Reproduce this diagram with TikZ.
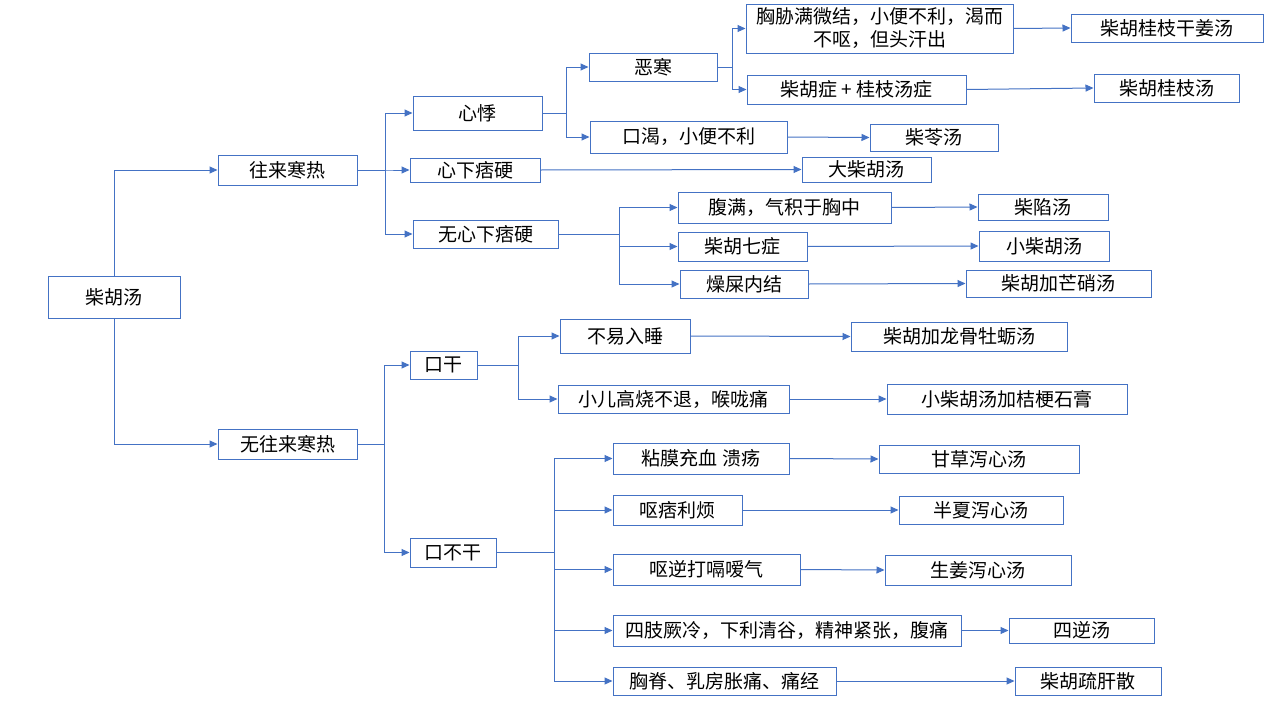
\documentclass[tikz,border=0pt]{standalone}
\usepackage{fontspec}
\setmainfont{Noto Sans CJK SC}
\usetikzlibrary{arrows.meta}
\definecolor{bblue}{HTML}{4472C4}
\newcommand\mybox[6]{\node[box,minimum width=#4pt,minimum height=#5pt] (#1) at (#2,#3) {#6};}
\begin{document}
\begin{tikzpicture}[x=1pt,y=-1pt,
  box/.style={draw=bblue, line width=1pt, inner sep=0pt, fill=white, text=black,
    font=\fontsize{19}{23}\selectfont, align=center},
  arr/.style={draw=bblue, line width=1pt, -{Triangle[length=8pt,width=7pt]}}]
\useasboundingbox[fill=white] (0,0) rectangle (1280,720);
% level 0/1
\mybox{root}{114}{297}{132}{42}{柴胡汤}
\mybox{wl}{287.5}{170}{139}{30}{往来寒热}
\mybox{nwl}{287.5}{444}{139}{30}{无往来寒热}
% upper branch
\mybox{xj}{477.5}{113}{129}{34}{心悸}
\mybox{xxpy}{475}{170}{130}{24}{心下痞硬}
\mybox{wxxpy}{485.5}{234}{145}{28}{无心下痞硬}
\mybox{eh}{653}{67}{128}{28}{恶寒}
\mybox{kk}{688.5}{137}{197}{32}{口渴，小便不利}
\mybox{xx}{879.5}{28.5}{267}{49}{胸胁满微结，小便不利，渴而\\不呕，但头汗出}
\mybox{czz}{856.5}{89.5}{219}{29}{柴胡症 + 桂枝汤症}
\mybox{gzgj}{1167}{28}{192}{28}{柴胡桂枝干姜汤}
\mybox{czgz}{1166.5}{88}{145}{28}{柴胡桂枝汤}
\mybox{cl}{934}{137.5}{128}{27}{柴苓汤}
\mybox{dch}{866.5}{169.5}{129}{25}{大柴胡汤}
\mybox{fm}{784.5}{207.5}{213}{31}{腹满，气积于胸中}
\mybox{qz}{742.5}{246.5}{129}{29}{柴胡七症}
\mybox{zs}{744}{284}{128}{28}{燥屎内结}
\mybox{cxt}{1043}{207}{130}{26}{柴陷汤}
\mybox{xch}{1044}{246}{130}{30}{小柴胡汤}
\mybox{mx}{1058.5}{283.5}{185}{27}{柴胡加芒硝汤}
% lower branch
\mybox{kg}{443.5}{365}{67}{28}{口干}
\mybox{kbg}{453}{552.5}{86}{29}{口不干}
\mybox{byrs}{625}{336}{130}{34}{不易入睡}
\mybox{xegs}{673.5}{399}{231}{28}{小儿高烧不退，喉咙痛}
\mybox{lgml}{959}{336.5}{216}{29}{柴胡加龙骨牡蛎汤}
\mybox{jgsg}{1007}{399}{240}{30}{小柴胡汤加桔梗石膏}
\mybox{nm}{701}{458.5}{176}{31}{粘膜充血 溃疡}
\mybox{opl}{677.5}{510}{129}{30}{呕痞利烦}
\mybox{on}{706.5}{569.5}{187}{31}{呕逆打嗝嗳气}
\mybox{sz}{787}{630.5}{348}{31}{四肢厥冷，下利清谷，精神紧张，腹痛}
\mybox{xjt}{724.5}{681}{223}{28}{胸脊、乳房胀痛、痛经}
\mybox{gc}{979}{459}{200}{28}{甘草泻心汤}
\mybox{bx}{981}{510}{164}{28}{半夏泻心汤}
\mybox{sj}{978}{570}{186}{30}{生姜泻心汤}
\mybox{sn}{1081.5}{630.5}{145}{25}{四逆汤}
\mybox{sg}{1088}{681}{146}{28}{柴胡疏肝散}
% junction coordinates
\coordinate (j1) at (385,0);
\coordinate (j2) at (566,0);
\coordinate (j3) at (732,0);
\coordinate (j4) at (619,0);
\coordinate (j5) at (384,0);
\coordinate (j6) at (518,0);
\coordinate (j7) at (554,0);
% connectors
\draw[arr] (root.north) |- (wl.west);
\draw[arr] (root.south) |- (nwl.west);
\foreach \c in {xj,xxpy,wxxpy} \draw[arr] (wl.east) -- (j1 |- wl.east) |- (\c.west);
\foreach \c in {eh,kk} \draw[arr] (xj.east) -- (j2 |- xj.east) |- (\c.west);
\foreach \c in {xx,czz} \draw[arr] (eh.east) -- (j3 |- eh.east) |- (\c.west);
\foreach \c in {fm,qz,zs} \draw[arr] (wxxpy.east) -- (j4 |- wxxpy.east) |- (\c.west);
\foreach \c in {kg,kbg} \draw[arr] (nwl.east) -- (j5 |- nwl.east) |- (\c.west);
\foreach \c in {byrs,xegs} \draw[arr] (kg.east) -- (j6 |- kg.east) |- (\c.west);
\foreach \c in {nm,opl,on,sz,xjt} \draw[arr] (kbg.east) -- (j7 |- kbg.east) |- (\c.west);
\draw[arr] (xx.east) -- (gzgj.west);
\draw[arr] (czz.east) -- (czgz.west);
\draw[arr] (kk.east) -- (cl.west);
\draw[arr] (xxpy.east) -- (dch.west);
\draw[arr] (fm.east) -- (cxt.west);
\draw[arr] (qz.east) -- (xch.west);
\draw[arr] (zs.east) -- (mx.west);
\draw[arr] (byrs.east) -- (lgml.west);
\draw[arr] (xegs.east) -- (jgsg.west);
\draw[arr] (nm.east) -- (gc.west);
\draw[arr] (opl.east) -- (bx.west);
\draw[arr] (on.east) -- (sj.west);
\draw[arr] (sz.east) -- (sn.west);
\draw[arr] (xjt.east) -- (sg.west);
\end{tikzpicture}
\end{document}
